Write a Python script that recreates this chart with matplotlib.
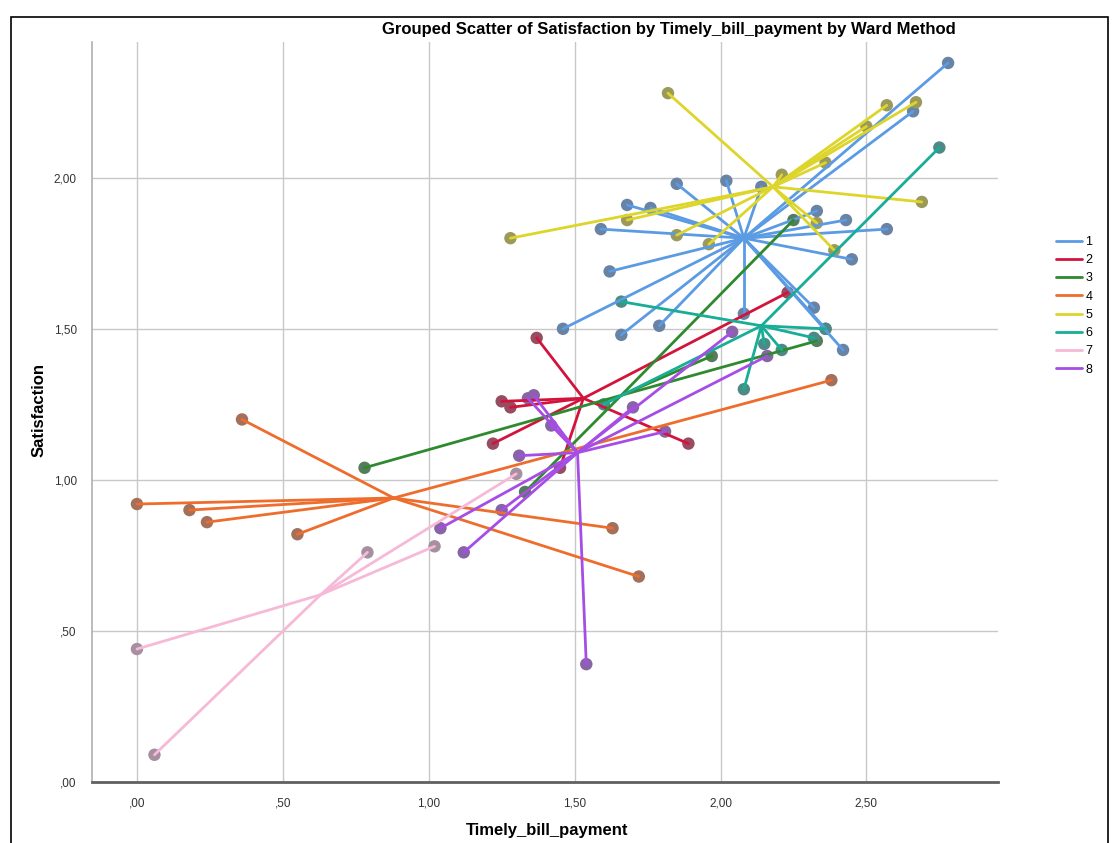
import matplotlib.pyplot as plt
import matplotlib.colors as mcolors
from matplotlib.patches import Rectangle

# cluster labels and colours (Ward method)
clusters = ['1', '2', '3', '4', '5', '6', '7', '8']
colors = ['#5b9be3', '#d2143c', '#2e8a2e', '#ef6d2c', '#ddd52a', '#17ad97', '#f6b9d7', '#a64de6']

# centroids
cent_x = [2.08, 1.53, 1.66, 0.88, 2.18, 2.14, 0.63, 1.51]
cent_y = [1.80, 1.27, 1.28, 0.94, 1.97, 1.51, 0.62, 1.09]

# cluster members: Timely_bill_payment (x) and Satisfaction (y)
c1_x = [2.78, 2.66, 1.85, 2.02, 2.14, 1.68, 1.76, 1.59, 2.33, 2.43, 2.57, 2.45, 1.62, 2.32, 2.36, 2.08, 1.79, 1.66, 1.46, 2.42]
c1_y = [2.38, 2.22, 1.98, 1.99, 1.97, 1.91, 1.90, 1.83, 1.89, 1.86, 1.83, 1.73, 1.69, 1.57, 1.50, 1.55, 1.51, 1.48, 1.50, 1.43]
c2_x = [1.37, 1.25, 1.28, 1.22, 1.89, 2.23, 1.45]
c2_y = [1.47, 1.26, 1.24, 1.12, 1.12, 1.62, 1.04]
c3_x = [0.78, 2.33, 2.25, 1.97, 1.33]
c3_y = [1.04, 1.46, 1.86, 1.41, 0.96]
c4_x = [0.36, 0.00, 0.18, 0.24, 0.55, 2.38, 1.63, 1.72]
c4_y = [1.20, 0.92, 0.90, 0.86, 0.82, 1.33, 0.84, 0.68]
c5_x = [1.82, 2.57, 2.67, 2.50, 2.36, 2.21, 2.69, 2.33, 2.39, 1.85, 1.96, 1.68, 1.28]
c5_y = [2.28, 2.24, 2.25, 2.17, 2.05, 2.01, 1.92, 1.85, 1.76, 1.81, 1.78, 1.86, 1.80]
c6_x = [2.75, 1.66, 2.36, 2.21, 2.15, 2.08, 1.60, 2.32]
c6_y = [2.10, 1.59, 1.50, 1.43, 1.45, 1.30, 1.25, 1.47]
c7_x = [0.00, 0.06, 0.79, 1.02, 1.30]
c7_y = [0.44, 0.09, 0.76, 0.78, 1.02]
c8_x = [1.54, 1.04, 1.12, 1.31, 1.25, 1.36, 1.34, 1.42, 1.70, 1.81, 2.04, 2.16]
c8_y = [0.39, 0.84, 0.76, 1.08, 0.90, 1.28, 1.27, 1.18, 1.24, 1.16, 1.49, 1.41]

all_x = [c1_x, c2_x, c3_x, c4_x, c5_x, c6_x, c7_x, c8_x]
all_y = [c1_y, c2_y, c3_y, c4_y, c5_y, c6_y, c7_y, c8_y]

x_ticks = [0.0, 0.5, 1.0, 1.5, 2.0, 2.5]
y_ticks = [0.0, 0.5, 1.0, 1.5, 2.0]


def comma_label(v):
    s = '%.2f' % v
    if s.startswith('0'):
        s = s[1:]
    return s.replace('.', ',')


def marker_color(c):
    # grey dot tinted with cluster colour
    r, g, b = mcolors.to_rgb(c)
    gr = (0.44, 0.45, 0.48)
    return (0.4 * r + 0.6 * gr[0], 0.4 * g + 0.6 * gr[1], 0.4 * b + 0.6 * gr[2])


plt.rcParams['font.family'] = ['Liberation Sans', 'DejaVu Sans']

fig = plt.figure(figsize=(11.14, 8.43), dpi=100)
ax = fig.add_axes([0.0826, 0.0724, 0.813, 0.878])

for i in range(len(clusters)):
    xs = all_x[i]
    ys = all_y[i]
    mc = marker_color(colors[i])
    ax.scatter(xs, ys, s=80, color=mc, edgecolors='none', zorder=2)
    for j in range(len(xs)):
        ax.plot([cent_x[i], xs[j]], [cent_y[i], ys[j]], color=colors[i],
                lw=2.0, solid_capstyle='round', zorder=3,
                label=clusters[i] if j == 0 else None)

ax.set_xlim(-0.154, 2.95)
ax.set_ylim(0, 2.45)
ax.set_xticks(x_ticks)
ax.set_yticks(y_ticks)
ax.set_xticklabels([comma_label(v) for v in x_ticks])
ax.set_yticklabels([comma_label(v) for v in y_ticks])
ax.tick_params(length=0, labelsize=8.5, colors='#333333', pad=11)
ax.grid(True, color='#c8c8c8', lw=1.0, zorder=0)
ax.set_axisbelow(True)

for side in ['top', 'right']:
    ax.spines[side].set_visible(False)
ax.spines['left'].set_color('#b0b0b0')
ax.spines['left'].set_linewidth(1.2)
ax.spines['bottom'].set_color('#606060')
ax.spines['bottom'].set_linewidth(2.0)

ax.set_xlabel('Timely_bill_payment', fontsize=12, fontweight='bold')
ax.set_ylabel('Satisfaction', fontsize=12, fontweight='bold')
ax.xaxis.set_label_coords(0.502, -0.055)
ax.yaxis.set_label_coords(-0.05, 0.503)
fig.text(0.6, 0.965, 'Grouped Scatter of Satisfaction by Timely_bill_payment by Ward Method',
         ha='center', va='center', fontsize=12, fontweight='bold')

ax.legend(loc='upper left', bbox_to_anchor=(0.943, 0.726), bbox_transform=fig.transFigure,
          frameon=False, fontsize=9, handlelength=2.1, handletextpad=0.3,
          labelspacing=0.5, borderaxespad=0)

# outer frame around the output window
fig.patches.append(Rectangle((0.01, -0.01), 0.985, 0.99, transform=fig.transFigure,
                             fill=False, edgecolor='black', lw=1.2))

fig.savefig('out.png', dpi=100)
